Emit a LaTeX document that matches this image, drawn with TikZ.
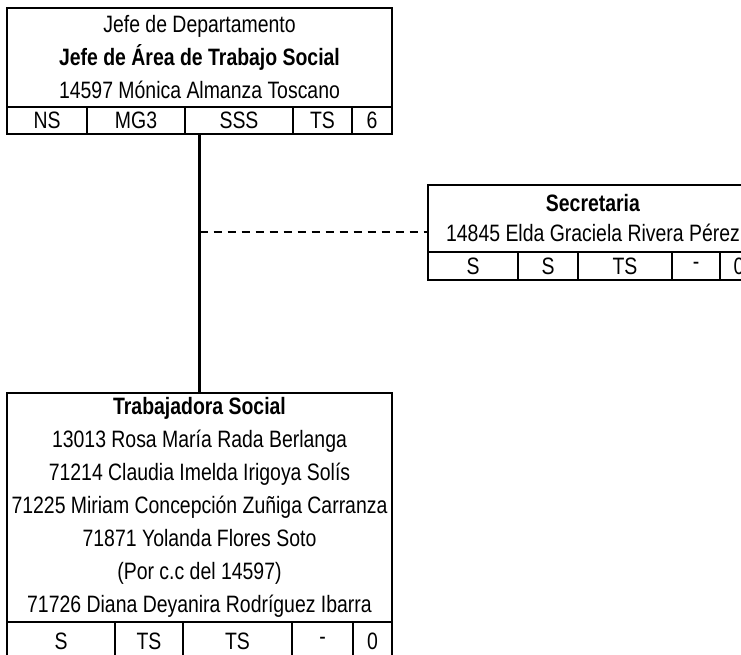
\documentclass[tikz,border=0pt]{standalone}
\usepackage{fontspec}
\setmainfont{Liberation Sans}[FakeStretch=0.82]
\tikzset{
    headbox/.style={draw, line width=2.4pt, inner sep=0pt, outer sep=0pt, align=center,
        font=\fontsize{23.7}{33}\selectfont},
    cell/.style={draw, line width=2pt, inner sep=0pt, outer sep=0pt,
        font=\fontsize{23.7}{33}\selectfont},
    conn/.style={line width=2.2pt},
}
\begin{document}
\begin{tikzpicture}[x=1pt, y=-1pt]
        \useasboundingbox (0, 0) rectangle (741, 655);
        \clip (0, 0) rectangle (741, 655);
        \draw (199.5, 57.5) node[headbox, minimum width=385pt, minimum height=99pt](jefe){Jefe de Departamento\\
            \textbf{Jefe de Área de Trabajo Social}\\14597 Mónica Almanza Toscano};
        \draw (47, 120.5) node[cell, minimum width=80pt, minimum height=27pt](jefe1){NS};
        \draw (136, 120.5) node[cell, minimum width=98pt, minimum height=27pt](jefe2){MG3};
        \draw (239, 120.5) node[cell, minimum width=108pt, minimum height=27pt](jefe3){SSS};
        \draw (322.5, 120.5) node[cell, minimum width=59pt, minimum height=27pt](jefe4){TS};
        \draw (372, 120.5) node[cell, minimum width=40pt, minimum height=27pt](jefe5){6};
        \draw[line width=2.4pt] (jefe.north west) rectangle (jefe5.south east);
        \draw (593, 218.5) node[headbox, minimum width=330pt, minimum height=67pt](secr){\textbf{Secretaria}\\[-3pt]
            14845 Elda Graciela Rivera Pérez};
        \draw (473, 266) node[cell, minimum width=90pt, minimum height=28pt](secr1){S};
        \draw (548, 266) node[cell, minimum width=60pt, minimum height=28pt](secr2){S};
        \draw (625, 266) node[cell, minimum width=94pt, minimum height=28pt](secr3){TS};
        \draw (696, 266) node[cell, minimum width=48pt, minimum height=28pt](secr4){-};
        \draw (739, 266) node[cell, minimum width=38pt, minimum height=28pt](secr5){0};
        \draw[line width=2.4pt] (secr.north west) rectangle (secr5.south east);
        \draw (199.5, 507.5) node[headbox, minimum width=385pt, minimum height=229pt](trab){\textbf{Trabajadora Social}\\
            13013 Rosa María Rada Berlanga\\71214 Claudia Imelda Irigoya Solís\\
            71225 Miriam Concepción Zuñiga Carranza\\71871 Yolanda Flores Soto\\
            (Por c.c del 14597)\\71726 Diana Deyanira Rodríguez Ibarra};
        \draw (61, 641) node[cell, minimum width=108pt, minimum height=38pt](trab1){S};
        \draw (149, 641) node[cell, minimum width=68pt, minimum height=38pt](trab2){TS};
        \draw (237.5, 641) node[cell, minimum width=109pt, minimum height=38pt](trab3){TS};
        \draw (322.5, 641) node[cell, minimum width=61pt, minimum height=38pt](trab4){-};
        \draw (372.5, 641) node[cell, minimum width=39pt, minimum height=38pt](trab5){0};
        \draw[line width=2.4pt] (trab.north west) rectangle (trab5.south east);
        \coordinate (junc) at (199.5, 232);
        \draw[conn] (trab.north) -- (trab.north |- jefe3.south);
        \draw[line width=1.8pt, dash pattern=on 8pt off 6pt] (junc) -- (junc -| secr.west);
    \end{tikzpicture}
\end{document}
